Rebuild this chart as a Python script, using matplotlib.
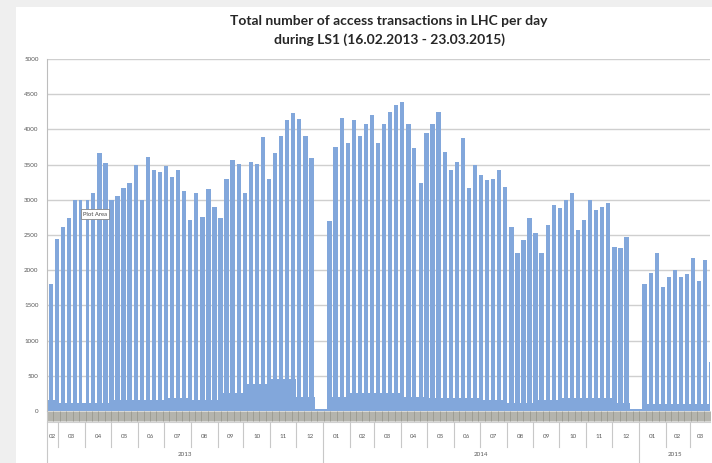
import numpy as np
import pandas as pd
import matplotlib
matplotlib.use("Agg")
import matplotlib.pyplot as plt
from matplotlib.patches import Rectangle
import matplotlib.transforms as mtransforms

# ---------------- data ----------------
start_date = "2013-02-16"
end_date = "2015-03-23"
first_monday = "2013-02-18"

# Working-day level (accesses/day) for each week, starting Monday 18.02.2013
weekday_level = [
    1800, 2450, 2620, 2740, 3000, 3000, 3000, 3100, 3660, 3520,   # 0-9
    3000, 3050, 3170, 3240, 3500, 3000, 3610, 3420, 3400, 3480,   # 10-19
    3330, 3420, 3130, 2720, 3090, 2760, 3150, 2900, 2740, 3300,   # 20-29
    3560, 3510, 3100, 3540, 3510, 3890, 3300, 3670, 3900, 4130,   # 30-39
    4240, 4150, 3900, 3600, 30, 30, 2700, 3750, 4160, 3800,       # 40-49
    4130, 3900, 4080, 4200, 3800, 4080, 4250, 4340, 4390, 4080,   # 50-59
    3730, 3240, 3950, 4080, 4250, 3680, 3420, 3540, 3880, 3170,   # 60-69
    3500, 3350, 3280, 3300, 3420, 3180, 2610, 2240, 2430, 2740,   # 70-79
    2530, 2240, 2640, 2920, 2890, 3000, 3100, 2570, 2710, 3000,   # 80-89
    2850, 2900, 2950, 2330, 2320, 2470, 30, 30, 1800, 1960,       # 90-99
    2240, 1760, 1900, 2000, 1900, 1950, 2170, 1850, 2150, 700,    # 100-109
]

# Weekend / holiday level per month
weekend_months = [
    "2013-02", "2013-03", "2013-04", "2013-05", "2013-06", "2013-07",
    "2013-08", "2013-09", "2013-10", "2013-11", "2013-12",
    "2014-01", "2014-02", "2014-03", "2014-04", "2014-05", "2014-06",
    "2014-07", "2014-08", "2014-09", "2014-10", "2014-11", "2014-12",
    "2015-01", "2015-02", "2015-03",
]
weekend_level = [
    150, 120, 120, 150, 150, 180,
    150, 250, 380, 450, 200,
    200, 250, 250, 200, 180, 180,
    150, 120, 150, 180, 180, 120,
    100, 100, 100,
]

holidays = ["2013-03-29", "2013-04-01", "2014-04-18", "2014-04-21"]

y_ticks = [0, 500, 1000, 1500, 2000, 2500, 3000, 3500, 4000, 4500, 5000]
title_lines = ["Total number of access transactions in LHC per day",
               "during LS1 (16.02.2013 - 23.03.2015)"]

# ---------------- build daily series ----------------
dates = pd.date_range(start_date, end_date, freq="D")
week_idx = np.clip((dates - pd.Timestamp(first_monday)).days // 7, 0, None)
month_key = dates.strftime("%Y-%m")
wk_map = dict(zip(weekend_months, weekend_level))
hol = set(pd.to_datetime(holidays))
values = []
for d, w, m in zip(dates, week_idx, month_key):
    work = weekday_level[w]
    if d.weekday() < 5 and d not in hol:
        values.append(work)
    else:
        values.append(min(wk_map[m], work))
values = np.array(values)
n = len(dates)
days = np.arange(n)

# ---------------- figure ----------------
W, H = 712, 463
fig = plt.figure(figsize=(W / 100, H / 100), dpi=100, facecolor="#efefef")
fig.patches.append(Rectangle((16 / W, 0), 1 - 16 / W, 1 - 7 / H,
                             transform=fig.transFigure, facecolor="white",
                             edgecolor="none", zorder=-10))

x0, x1 = 47, 710
y_top, y_bot = 59, 411
ax = fig.add_axes([x0 / W, 1 - y_bot / H, (x1 - x0) / W, (y_bot - y_top) / H])
ax.set_facecolor("none")
ax.set_zorder(5)

ax.bar(days, values, width=1.0, align="edge", color="#82a7db",
       edgecolor="none", zorder=2)

ax.set_xlim(0, n)
ax.set_ylim(0, 5000)
ax.set_yticks(y_ticks)
ax.set_yticklabels([str(v) for v in y_ticks], fontsize=4.5, color="#595959",
                   family="Lato")
ax.tick_params(axis="y", length=0, pad=6)
ax.grid(axis="y", color="#cfcfcf", linewidth=1.0, zorder=0)
ax.set_axisbelow(True)
for s in ["top", "right", "bottom"]:
    ax.spines[s].set_visible(False)
ax.spines["left"].set_color("#bdbdbd")
ax.spines["left"].set_linewidth(0.8)

# dense daily ticks forming the date band
ax.set_xticks(days + 0.5)
ax.set_xticklabels([])
ax.tick_params(axis="x", length=7, width=0.5, color="#94948a", direction="out")

trans = mtransforms.blended_transform_factory(ax.transData, ax.transAxes)
px = 1.0 / (y_bot - y_top)
band_y = -11 * px
month_lab_y = -26 * px
month_sep_y = -36 * px
year_lab_y = -44 * px
year_sep_y = -53 * px

ax.plot([0, n], [band_y, band_y], transform=trans, color="#d0d0d0",
        lw=0.8, clip_on=False)

# month labels and separators
months = pd.period_range(dates[0], dates[-1], freq="M")
for p in months:
    ms = max((p.start_time - dates[0]).days, 0)
    me = min((p.end_time.normalize() - dates[0]).days + 1, n)
    ax.text((ms + me) / 2, month_lab_y, p.strftime("%m"), transform=trans,
            ha="center", va="center", fontsize=4.5, color="#595959",
            family="Lato")
    if ms > 0:
        bottom = year_sep_y if p.month == 1 else month_sep_y
        ax.plot([ms, ms], [band_y, bottom], transform=trans, color="#c8c8c8",
                lw=0.8, clip_on=False)
ax.plot([0, 0], [0, year_sep_y], transform=trans, color="#c8c8c8",
        lw=0.8, clip_on=False)

# year labels
for yr in sorted(set(dates.year)):
    sel = days[dates.year == yr]
    ax.text((sel[0] + sel[-1] + 1) / 2, year_lab_y, str(yr), transform=trans,
            ha="center", va="center", fontsize=4.5, color="#595959",
            family="Lato")

# title
fig.text(389 / W, 1 - 21 / H, title_lines[0], ha="center", va="center",
         fontsize=10, fontweight="bold", family="Lato", color="#262626")
fig.text(389 / W, 1 - 40 / H, title_lines[1], ha="center", va="center",
         fontsize=10, fontweight="bold", family="Lato", color="#262626")

# Excel tooltip
fig.text(95 / W, 1 - 214 / H, "Plot Area", ha="center", va="center",
         fontsize=4.2, family="Lato", color="#444444", zorder=10,
         bbox=dict(boxstyle="square,pad=0.35", facecolor="white",
                   edgecolor="#888888", linewidth=0.6))

fig.savefig("out.png", dpi=100, facecolor=fig.get_facecolor())
